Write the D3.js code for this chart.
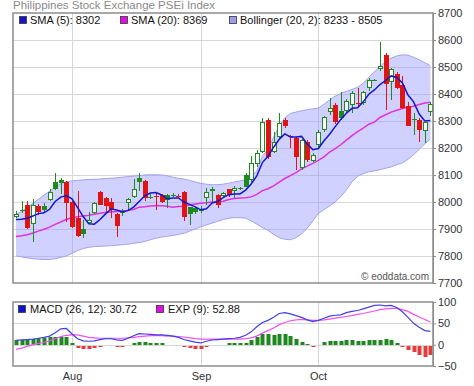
<!DOCTYPE html>
<html><head><meta charset="utf-8">
<script src="https://cdn.jsdelivr.net/npm/d3@7"></script>
<style>
html,body{margin:0;padding:0;background:#fff;}
svg{display:block;font-family:"Liberation Sans",Arial,sans-serif;}
</style></head><body>
<svg id="chart" width="474" height="386"></svg>
<script>
// ---- data ----
const startDate = "2017-07-18", endDate = "2017-10-30";
const prevClose = 7945;
const open = [7944,7970,7990,7919,7986,7985,8007,8073,8081,8073, 8001,7940,7900,7921,7958,8036,8013,8000,7955,7958, 7996,8017,8088,8079,8018,8024,8026,8026,8024,8022, 8038,7980,7976,7970,8014,8040,8026,8022,8047,8041, 8050,8100,8081,8140,8186,8304,8186,8242,8304,8244, 8236,8125,8224,8153,8211,8267,8332,8359,8337,8337, 8359,8365,8366,8423,8450,8491,8544,8446,8473,8433, 8357,8305,8304,8263,8332];
const high = [7965,8005,8003,8011,7994,7995,8048,8109,8090,8078, 8005,8041,7933,7962,8000,8040,8018,8015,7958,7975, 8015,8084,8109,8082,8030,8032,8030,8030,8035,8028, 8040,7983,7980,7985,8051,8055,8030,8037,8050,8060, 8055,8108,8170,8193,8310,8310,8260,8329,8310,8248, 8240,8232,8228,8180,8265,8320,8384,8365,8409,8380, 8410,8421,8412,8460,8455,8594,8551,8497,8482,8468, 8370,8329,8310,8298,8372];
const low = [7940,7960,7900,7850,7952,7960,8002,8044,8030,7927, 7905,7870,7866,7918,7955,7988,7960,7941,7872,7950, 7965,8014,8040,8005,8010,7970,7995,7978,8018,8015, 7930,7915,7955,7960,7990,7996,7977,8015,8020,8015, 8045,8054,8075,8131,8180,8160,8180,8238,8275,8200, 8119,8120,8150,8148,8205,8260,8322,8290,8305,8330, 8330,8353,8360,8410,8448,8485,8341,8378,8420,8345, 8280,8248,8223,8217,8320];
const close = [7956,7972,7905,7989,7964,7970,8038,8047,8070,7996, 7909,7875,7880,7933,7995,7990,7984,7970,7910,7967, 8010,8047,8075,8014,8020,8018,8001,8008,8026,8020, 7946,7957,7962,7972,8038,8050,7990,8032,8027,8051, 8052,8057,8146,8180,8297,8166,8224,8292,8281,8242, 8168,8230,8156,8174,8260,8316,8349,8295,8312,8374, 8403,8362,8406,8452,8453,8504,8436,8491,8423,8349, 8283,8307,8267,8295,8362];
const sma5 = [7935,7936,7940,7948,7957,7960,7973,8002,8018,8024, 8012,7979,7946,7919,7918,7935,7956,7974,7970,7964, 7968,7981,8002,8023,8033,8035,8026,8012,8015,8015, 8000,7991,7982,7971,7975,7996,8002,8016,8027,8030, 8030,8044,8067,8097,8146,8169,8203,8232,8252,8241, 8241,8243,8215,8194,8198,8227,8251,8279,8306,8329, 8347,8349,8371,8399,8415,8435,8450,8467,8461,8441, 8396,8371,8326,8300,8302];
const sma20 = [7872,7875,7879,7885,7892,7899,7907,7917,7926,7936, 7942,7945,7948,7951,7955,7958,7961,7963,7965,7966, 7969,7972,7981,7982,7985,7987,7986,7984,7981,7983, 7984,7989,7993,7995,7997,8000,8000,8003,8009,8013, 8015,8016,8019,8028,8042,8049,8060,8074,8087,8098, 8109,8123,8133,8143,8154,8167,8185,8198,8212,8229, 8246,8261,8274,8288,8296,8313,8323,8333,8340,8346, 8351,8355,8361,8367,8369];
const bbUpper = [7955,7965,7980,7995,8010,8025,8040,8055,8068,8075, 8078,8080,8082,8083,8084,8085,8087,8088,8090,8092, 8094,8096,8098,8100,8101,8101,8100,8097,8092,8088, 8085,8080,8074,8069,8066,8064,8064,8066,8070,8074, 8078,8082,8095,8115,8170,8195,8240,8280,8312,8328, 8333,8338,8342,8345,8348,8362,8378,8392,8402,8410, 8417,8425,8440,8462,8482,8502,8520,8533,8541,8545, 8544,8536,8527,8516,8505];
const bbLower = [7800,7797,7793,7790,7788,7787,7787,7790,7795,7800, 7810,7820,7828,7832,7835,7836,7837,7838,7840,7842, 7844,7847,7850,7854,7860,7866,7870,7873,7876,7880, 7884,7892,7900,7908,7915,7922,7928,7935,7940,7942, 7942,7940,7930,7918,7905,7895,7880,7868,7862,7860, 7868,7882,7903,7930,7958,7972,7985,8000,8020,8045, 8075,8095,8105,8112,8115,8120,8125,8130,8138,8145, 8158,8175,8195,8215,8233];
const macd = [10,11,12,13,15,17,20,28,37,38, 25,14,9,8,9,12,14,14,11,10, 15,21,26,25,24,23,23,22,20,17, 12,9,6,4,8,11,12,13,14,15, 17,22,30,42,52,57,64,73,75,72, 68,64,58,54,57,62,67,69,70,75, 78,80,84,88,92,93,91,92,87,77, 64,50,41,33,31];
const signal = [-11,-8,-4,0,3,5,9,14,19,22, 23,23,20,17,16,15,15,15,15,15, 16,17,19,20,21,21,21,20,20,19, 18,16,14,13,13,13,13,13,13,13, 13,14,16,20,27,33,39,47,52,56, 58,59,58,57,57,58,60,62,64,66, 68,71,73,76,79,82,84,85,85,82, 78,71,65,59,53];
const hist = [12,11,12,14,15,15,17,18,19,17, 5,-5,-8,-8,-5,-3,0,0,-2,-2, 0,4,6,6,5,4,3,0,0,0, -3,-6,-8,-8,-3,0,0,0,3,4, 4,5,10,17,25,25,23,25,25,21, 13,6,2,-3,0,7,8,8,8,10, 10,9,9,12,11,12,13,10,5,-4, -9,-16,-22,-26,-22];
const priceTicks = [7700,7800,7900,8000,8100,8200,8300,8400,8500,8600,8700];
const macdTicks = [-50,0,50,100];
const title = "Philippines Stock Exchange PSEi Index";
const mainLegend = ["SMA (5): 8302","SMA (20): 8369","Bollinger (20, 2): 8233 - 8505"];
const macdLegend = ["MACD (26, 12): 30.72","EXP (9): 52.88"];
const credit = "\u00a9 eoddata.com";

// ---- layout ----
const P = {l:13, r:433, t:13, b:283};
const M = {t:302, b:366};
const C = {
  up:"#1c8a1c", down:"#e01414", band:"#9a9aff", bandEdge:"#a2a2ee",
  sma5:"#1616c8", sma20:"#e030e0", macd:"#4040e6", sig:"#f050f0",
  grid:"#d6d6d6", border:"#8c8c8c", text:"#333", histUp:"#1e881e", histDn:"#e43c3c"
};

const svg = d3.select("#chart");
const parse = d3.utcParse("%Y-%m-%d");
const dates = d3.utcDay.range(parse(startDate), d3.utcDay.offset(parse(endDate),1))
  .filter(d => d.getUTCDay() % 6 !== 0);
const n = close.length;
const idx = d3.range(n);
const x = d3.scaleLinear().domain([0, n-1]).range([16, 430.4]);
const cx = i => Math.round(x(i)) + 0.5;
const y = d3.scaleLinear().domain([7700, 8700]).range([P.b, P.t]);
const ym = d3.scaleLinear().domain([-50, 100]).range([M.b, M.t]);
const monthIdx = idx.filter(i => i > 0 && dates[i].getUTCMonth() !== dates[i-1].getUTCMonth());
const fmtMonth = d3.utcFormat("%b");

svg.append("rect").attr("width",474).attr("height",386).attr("fill","#fff");

// clip paths
const defs = svg.append("defs");
defs.append("clipPath").attr("id","clipMain").append("rect")
  .attr("x",P.l).attr("y",P.t).attr("width",P.r-P.l).attr("height",P.b-P.t);
defs.append("clipPath").attr("id","clipMacd").append("rect")
  .attr("x",P.l).attr("y",M.t).attr("width",P.r-P.l).attr("height",M.b-M.t);

// ---- main panel ----
const gm = svg.append("g").attr("clip-path","url(#clipMain)");
gm.selectAll("line.hg").data(priceTicks.slice(1,-1)).join("line")
  .attr("x1",P.l).attr("x2",P.r)
  .attr("y1",d=>Math.round(y(d))+0.5).attr("y2",d=>Math.round(y(d))+0.5)
  .attr("stroke",C.grid).attr("stroke-width",1);
gm.selectAll("line.vg").data(monthIdx).join("line")
  .attr("x1",i=>cx(i)).attr("x2",i=>cx(i)).attr("y1",P.t).attr("y2",P.b)
  .attr("stroke",C.grid).attr("stroke-width",1);

const area = d3.area().x(i=>x(i)).y0(i=>y(bbLower[i])).y1(i=>y(bbUpper[i]));
gm.append("path").datum(idx).attr("d",area).attr("fill",C.band).attr("fill-opacity",0.45);
const lineU = d3.line().x(i=>x(i)).y(i=>y(bbUpper[i]));
const lineL = d3.line().x(i=>x(i)).y(i=>y(bbLower[i]));
gm.append("path").datum(idx).attr("d",lineU).attr("fill","none").attr("stroke",C.bandEdge).attr("stroke-width",1);
gm.append("path").datum(idx).attr("d",lineL).attr("fill","none").attr("stroke",C.bandEdge).attr("stroke-width",1);

gm.append("path").datum(idx).attr("fill","none").attr("stroke",C.sma20).attr("stroke-width",1.5)
  .attr("d",d3.line().x(i=>x(i)).y(i=>y(sma20[i])));

// candles
const cg = gm.append("g");
idx.forEach(i => {
  const pc = i === 0 ? prevClose : close[i-1];
  const col = close[i] >= pc ? C.up : C.down;
  const filled = close[i] < open[i];
  const X = cx(i);
  cg.append("line").attr("x1",X).attr("x2",X)
    .attr("y1",Math.round(y(high[i]))).attr("y2",Math.round(y(low[i])))
    .attr("stroke",col).attr("stroke-width",1);
  const top = Math.round(y(Math.max(open[i],close[i])));
  const bot = Math.round(y(Math.min(open[i],close[i])));
  const h = Math.max(1, bot-top);
  if (h <= 1) {
    cg.append("rect").attr("x",X-2.5).attr("y",top).attr("width",5).attr("height",1).attr("fill",col);
  } else if (filled) {
    cg.append("rect").attr("x",X-2.5).attr("y",top).attr("width",5).attr("height",h).attr("fill",col);
  } else {
    cg.append("rect").attr("x",X-2).attr("y",top+0.5).attr("width",4).attr("height",h-1)
      .attr("fill","#fff").attr("stroke",col).attr("stroke-width",1);
  }
});

gm.append("path").datum(idx).attr("fill","none").attr("stroke",C.sma5).attr("stroke-width",1.5)
  .attr("d",d3.line().x(i=>x(i)).y(i=>y(sma5[i])));

svg.append("rect").attr("x",P.l).attr("y",P.t).attr("width",P.r-P.l).attr("height",P.b-P.t)
  .attr("fill","none").attr("stroke",C.border).attr("stroke-width",1.5);

// right axis main
const axM = svg.append("g").attr("transform",`translate(${P.r},0)`)
  .call(d3.axisRight(y).tickValues(priceTicks).tickSize(3).tickSizeOuter(0).tickPadding(2).tickFormat(d3.format("d")));
axM.select(".domain").attr("stroke",C.border);
axM.selectAll(".tick line").attr("stroke",C.border);
axM.selectAll("text").attr("fill",C.text).style("font-size","11px").style("font-family",'"Liberation Sans",Arial,sans-serif');

// title + legend
svg.append("text").attr("x",13).attr("y",8.5).attr("fill","#8a8a8a").style("font-size","11.5px").text(title);
const lgX = [19,120,229], lgC = [C.sma5,"#dd10dd","#9c9ce8"];
mainLegend.forEach((t,k) => {
  svg.append("rect").attr("x",lgX[k]+0.5).attr("y",16.5).attr("width",7).attr("height",7)
    .attr("fill",lgC[k]).attr("stroke","#333").attr("stroke-width",0.8);
  svg.append("text").attr("x",lgX[k]+11).attr("y",23.5).attr("fill","#111").style("font-size","11px").text(t);
});
svg.append("text").attr("x",429).attr("y",280).attr("text-anchor","end").attr("fill","#555").style("font-size","10px").text(credit);

// ---- MACD panel ----
const gd = svg.append("g").attr("clip-path","url(#clipMacd)");
gd.selectAll("line.hg").data([0,50]).join("line")
  .attr("x1",P.l).attr("x2",P.r)
  .attr("y1",d=>Math.round(ym(d))+0.5).attr("y2",d=>Math.round(ym(d))+0.5)
  .attr("stroke",C.grid);
gd.selectAll("line.vg").data(monthIdx).join("line")
  .attr("x1",i=>cx(i)).attr("x2",i=>cx(i)).attr("y1",M.t).attr("y2",M.b).attr("stroke",C.grid);
const y0 = Math.round(ym(0));
gd.selectAll("rect.h").data(idx.filter(i=>hist[i]!==0)).join("rect")
  .attr("x",i=>Math.round(x(i))-1.5).attr("width",4)
  .attr("y",i=> hist[i]>0 ? Math.round(ym(hist[i])) : y0+1)
  .attr("height",i=> Math.max(1, hist[i]>0 ? y0-Math.round(ym(hist[i])) : Math.round(ym(hist[i]))-y0))
  .attr("fill",i=>hist[i]>0?C.histUp:C.histDn);
gd.append("path").datum(idx).attr("fill","none").attr("stroke",C.sig).attr("stroke-width",1.2)
  .attr("d",d3.line().x(i=>x(i)).y(i=>ym(signal[i])));
gd.append("path").datum(idx).attr("fill","none").attr("stroke",C.macd).attr("stroke-width",1.2)
  .attr("d",d3.line().x(i=>x(i)).y(i=>ym(macd[i])));
svg.append("rect").attr("x",P.l).attr("y",M.t).attr("width",P.r-P.l).attr("height",M.b-M.t)
  .attr("fill","none").attr("stroke",C.border).attr("stroke-width",1.5);

const axD = svg.append("g").attr("transform",`translate(${P.r},0)`)
  .call(d3.axisRight(ym).tickValues(macdTicks).tickSize(3).tickSizeOuter(0).tickPadding(2));
axD.select(".domain").attr("stroke",C.border);
axD.selectAll(".tick line").attr("stroke",C.border);
axD.selectAll("text").attr("fill",C.text).style("font-size","11px").style("font-family",'"Liberation Sans",Arial,sans-serif');

const mlX = [18,156], mlC = ["#1010d0","#e010e0"];
macdLegend.forEach((t,k) => {
  svg.append("rect").attr("x",mlX[k]+0.5).attr("y",305.5).attr("width",7).attr("height",7)
    .attr("fill",mlC[k]).attr("stroke","#333").attr("stroke-width",0.8);
  svg.append("text").attr("x",mlX[k]+12).attr("y",312.5).attr("fill","#111").style("font-size","11px").text(t);
});

// x axis month labels
svg.selectAll("text.mon").data(monthIdx).join("text")
  .attr("x",i=>cx(i)).attr("y",380).attr("text-anchor","middle")
  .attr("fill",C.text).style("font-size","11px").text(i=>fmtMonth(dates[i]));
</script>
</body></html>
